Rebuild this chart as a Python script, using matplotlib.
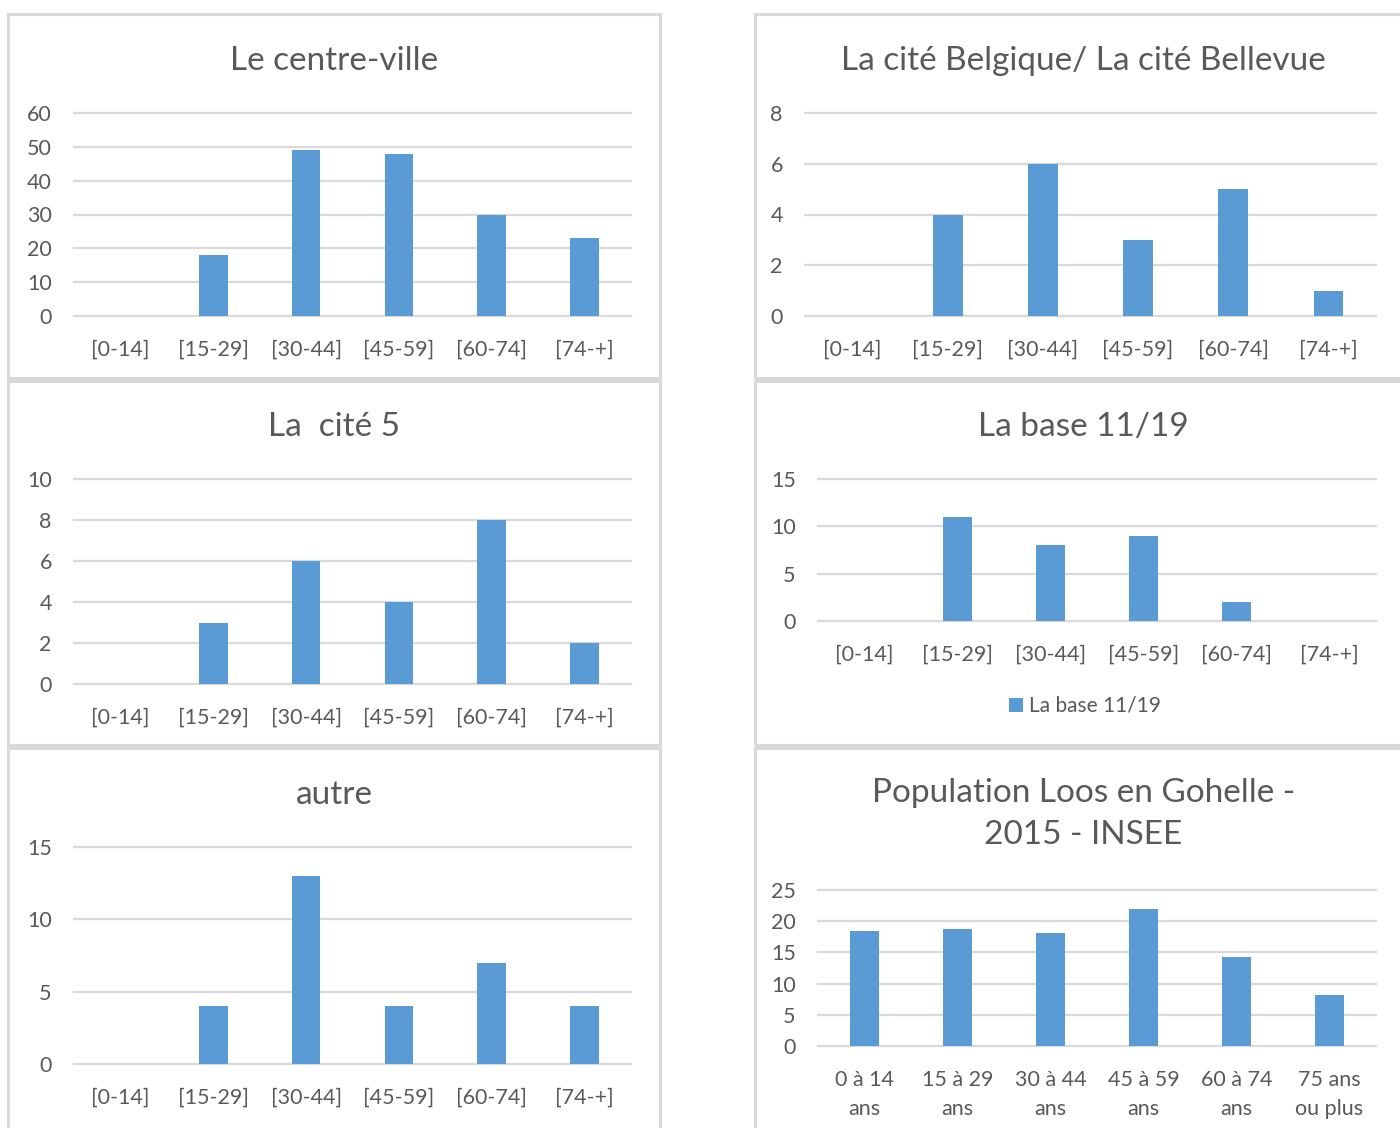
import matplotlib
matplotlib.use("Agg")
import matplotlib.pyplot as plt
from matplotlib.patches import Rectangle

plt.rcParams['font.family'] = ['Lato', 'DejaVu Sans']

# ---- data ----
age_groups = ["[0-14]", "[15-29]", "[30-44]", "[45-59]", "[60-74]", "[74-+]"]
centre_ville = [0, 18, 49, 48, 30, 23]
belgique_bellevue = [0, 4, 6, 3, 5, 1]
cite_5 = [0, 3, 6, 4, 8, 2]
base_11_19 = [0, 11, 8, 9, 2, 0]
autre = [0, 4, 13, 4, 7, 4]
insee_groups = ["0 à 14\nans", "15 à 29\nans", "30 à 44\nans", "45 à 59\nans",
                "60 à 74\nans", "75 ans\nou plus"]
insee_2015 = [18.5, 18.8, 18.1, 22.0, 14.2, 8.2]

BAR = "#5B9BD5"
GRID = "#D9D9D9"
TXT = "#595959"
W, H = 1400, 1128

fig = plt.figure(figsize=(W / 100, H / 100), dpi=100)
fig.patch.set_facecolor("white")


def frame(x0, y0, x1, y1):
    fig.patches.append(Rectangle((x0 / W, 1 - y1 / H), (x1 - x0) / W, (y1 - y0) / H,
                                 transform=fig.transFigure, fill=False,
                                 edgecolor=GRID, linewidth=2.2, clip_on=False))


def panel(box, axbox, title, title_y, cats, vals, ymax, ystep, legend=None,
          xpad=17):
    bx0, by0, bx1, by1 = box
    frame(bx0, by0, bx1, by1)
    x0, x1, yb, yt = axbox
    ax = fig.add_axes([x0 / W, 1 - yb / H, (x1 - x0) / W, (yb - yt) / H])
    ax.bar(range(len(cats)), vals, width=0.31, color=BAR, zorder=2, label=legend)
    ax.set_xlim(-0.5, len(cats) - 0.5)
    ax.set_ylim(0, ymax)
    ticks = list(range(0, ymax + 1, ystep))
    for t in ticks:
        ax.axhline(t, color=GRID, linewidth=1.6, zorder=1, clip_on=False)
    ax.set_yticks(ticks)
    ax.set_xticks(range(len(cats)))
    ax.set_xticklabels(cats, linespacing=1.6)
    for s in ax.spines.values():
        s.set_visible(False)
    ax.tick_params(axis="both", length=0, labelsize=15.5, labelcolor=TXT)
    ax.tick_params(axis="y", pad=16)
    ax.tick_params(axis="x", pad=xpad)
    ax.set_facecolor("none")
    cx = (bx0 + bx1) / 2
    fig.text(cx / W, 1 - title_y / H, title, ha="center", va="center",
             fontsize=24, color=TXT, linespacing=1.5)
    if legend:
        ax.legend(loc="center", bbox_to_anchor=(1085 / W, 1 - 706 / H),
                  bbox_transform=fig.transFigure, frameon=False, fontsize=15,
                  labelcolor=TXT, handlelength=0.65, handleheight=0.65,
                  handletextpad=0.3)
    return ax


panel((8, 14, 660, 378), (74, 631, 316, 113), "Le centre-ville", 61,
      age_groups, centre_ville, 60, 10)
panel((755, 14, 1412, 378), (805, 1376, 316, 113), "La cité Belgique/ La cité Bellevue", 61,
      age_groups, belgique_bellevue, 8, 2)
panel((8, 381, 660, 745), (74, 631, 684, 479), "La  cité 5", 427,
      age_groups, cite_5, 10, 2)
panel((755, 381, 1412, 745), (818, 1376, 621, 479), "La base 11/19", 427,
      age_groups, base_11_19, 15, 5, legend="La base 11/19")
panel((8, 748, 660, 1140), (74, 631, 1064, 847), "autre", 795,
      age_groups, autre, 15, 5)
panel((755, 748, 1412, 1140), (818, 1376, 1046, 890),
      "Population Loos en Gohelle -\n2015 - INSEE", 814,
      insee_groups, insee_2015, 25, 5, xpad=17)

fig.savefig("out.png", dpi=100, facecolor="white")
